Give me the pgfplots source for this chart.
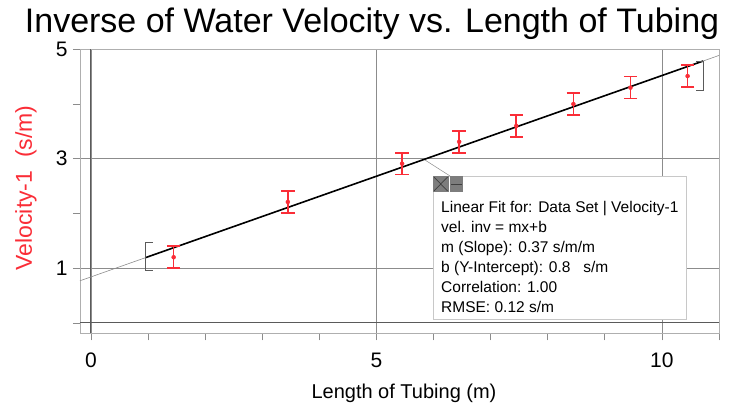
\documentclass[border=0pt]{standalone}
\usepackage{fontspec}
\setmainfont{Liberation Sans}
\usepackage{pgfplots}
\pgfplotsset{compat=1.18}
\definecolor{vred}{RGB}{250,45,55}
\definecolor{gridgray}{RGB}{140,140,140}
\definecolor{framegray}{RGB}{175,175,175}
\definecolor{axisdark}{RGB}{90,90,90}
\definecolor{boxgray}{RGB}{200,200,200}
\definecolor{btngray}{RGB}{125,125,125}

\pgfplotstableread{
x     y     e
1.45  1.20  0.20
3.45  2.21  0.20
5.45  2.91  0.20
6.45  3.31  0.20
7.45  3.60  0.20
8.45  4.00  0.20
9.45  4.30  0.20
10.45 4.51  0.20
}\veldata

\begin{document}
\begin{tikzpicture}
\useasboundingbox (-80pt,-76.7pt) rectangle (650pt,333.3pt);
\begin{axis}[
  scale only axis, width=639pt, height=284pt,
  xmin=-0.19, xmax=11, ymin=-0.19, ymax=5,
  axis line style={framegray, line width=0.8pt},
  xtick={0,5,10}, minor xtick={1,2,3,4,6,7,8,9,11},
  ytick={1,3,5}, minor ytick={0,2,4},
  xtick pos=left, ytick pos=left,
  tick align=outside, major tick length=7pt, minor tick length=7pt,
  tick style={gridgray, line width=0.6pt},
  grid=major, major grid style={gridgray, line width=0.6pt},
  tick label style={font=\fontsize{21}{21}\selectfont},
  xticklabel style={yshift=-9pt},
  yticklabel style={xshift=-2pt},
  /pgf/number format/assume math mode=true,
  xlabel={Length of Tubing (m)},
  xlabel style={font=\fontsize{20}{20}\selectfont, at={(axis description cs:0.507,0)}, anchor=base, yshift=-65pt},
  ylabel={Velocity-1\ \ (s/m)},
  ylabel style={font=\fontsize{23}{23}\selectfont, text=vred, at={(axis description cs:-0.0845,0.512)}, anchor=center},
  clip=false,
]
% axis lines through zero
\draw[axisdark, line width=1pt] (axis cs:0,-0.19) -- (axis cs:0,5);
\draw[axisdark, line width=1pt] (axis cs:-0.19,0) -- (axis cs:11,0);
% full-range fit line (thin) and fitted range (thick)
\addplot[gridgray, line width=0.6pt] coordinates {(-0.19,0.770) (11,4.888)};
\addplot[black, line width=1.6pt] coordinates {(0.964,1.195) (10.72,4.785)};
% range brackets
\draw[axisdark, line width=0.9pt] (axis cs:1.08,1.463) -- (axis cs:0.964,1.463) -- (axis cs:0.964,0.951) -- (axis cs:1.08,0.951);
\draw[axisdark, line width=0.9pt] (axis cs:10.60,4.77) -- (axis cs:10.72,4.77) -- (axis cs:10.72,4.24) -- (axis cs:10.60,4.24);
% data with error bars
\addplot[vred, only marks, mark=none,
  error bars/.cd, y dir=both, y explicit,
  error bar style={vred, line width=1.6pt, solid},
  error mark options={rotate=90, vred, line width=1.6pt, mark size=6.7pt}]
  table[x=x, y=y, y error=e] {\veldata};
\end{axis}
% title
\node[anchor=base, font=\fontsize{34}{34}\selectfont] at (292pt,300.3pt) {Inverse of Water Velocity vs. Length of Tubing};
% fit annotation box
\draw[gridgray, line width=0.5pt] (345pt,173.3pt) -- (370pt,157.3pt);
\draw[boxgray, fill=white, line width=0.8pt] (353pt,157.3pt) rectangle (606pt,14.3pt);
\fill[btngray] (353pt,157.3pt) rectangle (368.5pt,141.3pt);
\fill[btngray] (369.5pt,157.3pt) rectangle (383pt,141.3pt);
\draw[axisdark!70!black, line width=0.7pt] (354pt,156.3pt) -- (367.5pt,142.3pt) (354pt,142.3pt) -- (367.5pt,156.3pt);
\draw[axisdark!70!black, line width=1pt] (371pt,149.3pt) -- (381.5pt,149.3pt);
\begin{scope}[every node/.style={anchor=base west, inner sep=0pt, font=\fontsize{15.5}{15.5}\selectfont}]
\node at (361pt,121.3pt) {Linear Fit for: Data Set | Velocity-1};
\node at (361pt,101.3pt) {vel. inv = mx+b};
\node at (361pt,81.3pt) {m (Slope): 0.37 s/m/m};
\node at (361pt,61.3pt) {b (Y-Intercept): 0.8\ \ \ s/m};
\node at (361pt,41.3pt) {Correlation: 1.00};
\node at (361pt,21.3pt) {RMSE: 0.12 s/m};
\end{scope}
\end{tikzpicture}
\end{document}
